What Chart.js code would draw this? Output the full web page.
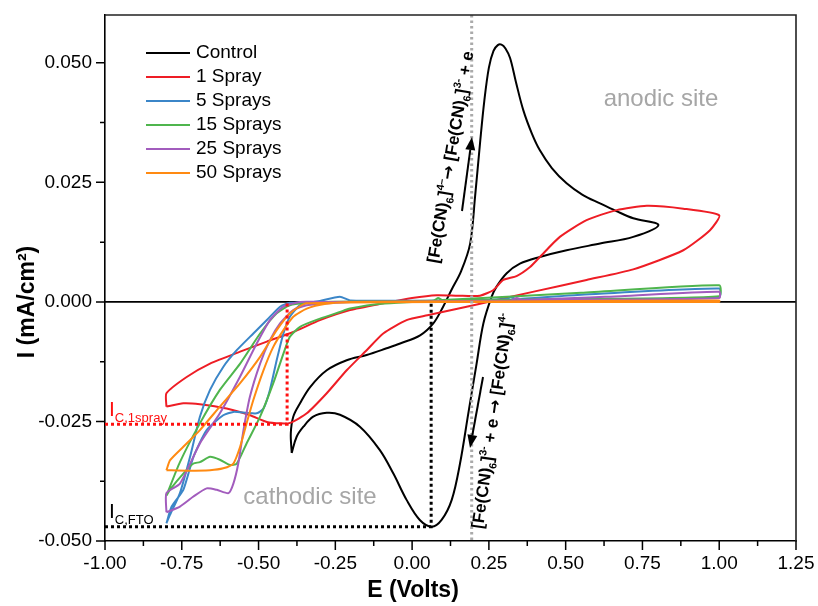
<!DOCTYPE html>
<html>
<head>
<meta charset="utf-8">
<script src="https://cdn.jsdelivr.net/npm/chart.js@4.4.0/dist/chart.umd.min.js"></script>
<style>
  html, body { margin: 0; padding: 0; background: #fff; }
  canvas { display: block; }
</style>
</head>
<body>
<canvas id="cvChart" width="818" height="606"></canvas>
<script>
// series
const seriesNames = ['Control', '1 Spray', '5 Sprays', '15 Sprays', '25 Sprays', '50 Sprays'];
const seriesColors = ['#000000', '#ee1d25', '#3b86c8', '#4fb54d', '#a25cbd', '#ff8a12'];

// E (V) and I (mA/cm2), each loop in scan order
const controlE = [-0.392, -0.395, -0.387, -0.365, -0.332, -0.278, -0.213, -0.148, -0.083, -0.039, 0.026, 0.069, 0.101, 0.128, 0.160, 0.189, 0.205, 0.221, 0.235, 0.250, 0.265, 0.279, 0.291, 0.304, 0.319, 0.338, 0.362, 0.390, 0.416, 0.455, 0.503, 0.555, 0.612, 0.665, 0.720, 0.802,
                  0.720, 0.612, 0.503, 0.416, 0.351, 0.308, 0.275, 0.259, 0.232, 0.210, 0.183, 0.156, 0.129, 0.096, 0.064, 0.025, -0.018, -0.061, -0.105, -0.170, -0.235, -0.278, -0.322, -0.354, -0.376, -0.392];
const controlI = [-0.0316, -0.0275, -0.0240, -0.0212, -0.0178, -0.0143, -0.0122, -0.0111, -0.0097, -0.0087, -0.0070, -0.0045, -0.0010, 0.0025, 0.0065, 0.0122, 0.0220, 0.0331, 0.0420, 0.0490, 0.0525, 0.0537, 0.0538, 0.0530, 0.0510, 0.0460, 0.0401, 0.0352, 0.0317, 0.0280, 0.0248, 0.0224, 0.0206, 0.0190, 0.0175, 0.0161,
                  0.0136, 0.0122, 0.0108, 0.0094, 0.0080, 0.0060, 0.0032, 0.0011, -0.0045, -0.0129, -0.0233, -0.0338, -0.0414, -0.0456, -0.0470, -0.0456, -0.0414, -0.0359, -0.0310, -0.0261, -0.0236, -0.0232, -0.0240, -0.0261, -0.0282, -0.0316];

const spray1E = [-0.800, -0.800, -0.734, -0.658, -0.560, -0.473, -0.387, -0.300, -0.202, -0.094, 0.000, 0.080, 0.150, 0.221, 0.265, 0.297, 0.340, 0.384, 0.416, 0.481, 0.568, 0.666, 0.764, 0.883, 1.000,
                 0.970, 0.883, 0.720, 0.568, 0.400, 0.200, 0.050, -0.018, -0.094, -0.148, -0.213, -0.278, -0.343, -0.397, -0.430, -0.473, -0.528, -0.604, -0.691, -0.745, -0.800];
const spray1I = [-0.0219, -0.0191, -0.0157, -0.0129, -0.0104, -0.0083, -0.0063, -0.0038, -0.0017, -0.0003, 0.0008, 0.0014, 0.0013, 0.0013, 0.0025, 0.0046, 0.0054, 0.0073, 0.0094, 0.0136, 0.0171, 0.0192, 0.0201, 0.0195, 0.0181,
                 0.0150, 0.0108, 0.0068, 0.0046, 0.0022, -0.0007, -0.0028, -0.0038, -0.0066, -0.0101, -0.0143, -0.0191, -0.0233, -0.0253, -0.0254, -0.0251, -0.0237, -0.0223, -0.0214, -0.0212, -0.0219];

const spray5E = [-0.800, -0.783, -0.745, -0.712, -0.669, -0.615, -0.582, -0.539, -0.506, -0.484, -0.463, -0.441, -0.419, -0.398, -0.365, -0.300, -0.235, -0.200, 0.100, 0.310, 0.320, 0.340, 0.550, 1.000,
                 1.000, 0.500, 0.000, -0.300, -0.398, -0.430, -0.473, -0.517, -0.571, -0.615, -0.658, -0.691, -0.723, -0.756, -0.788, -0.800];
const spray5I = [-0.0463, -0.0428, -0.0393, -0.0324, -0.0268, -0.0237, -0.0230, -0.0232, -0.0233, -0.0223, -0.0184, -0.0122, -0.0066, -0.0031, -0.0007, 0.0002, 0.0011, 0.0003, 0.0003, 0.0006, 0.0010, 0.0006, 0.0015, 0.0028,
                 0.0010, 0.0004, 0.0001, 0.0000, -0.0002, -0.0010, -0.0038, -0.0066, -0.0101, -0.0136, -0.0184, -0.0240, -0.0324, -0.0400, -0.0445, -0.0463];

const spray15E = [-0.800, -0.789, -0.745, -0.712, -0.691, -0.658, -0.626, -0.593, -0.571, -0.539, -0.495, -0.452, -0.419, -0.398, -0.365, -0.300, -0.235, -0.202, -0.100, 0.070, 0.085, 0.100, 0.550, 1.000,
                  1.000, 0.500, 0.000, -0.300, -0.398, -0.441, -0.495, -0.560, -0.626, -0.691, -0.756, -0.800];
const spray15I = [-0.0405, -0.0393, -0.0359, -0.0338, -0.0335, -0.0324, -0.0330, -0.0341, -0.0338, -0.0296, -0.0240, -0.0170, -0.0108, -0.0073, -0.0052, -0.0035, -0.0021, -0.0014, -0.0004, 0.0003, 0.0008, 0.0004, 0.0019, 0.0035,
                  0.0012, 0.0006, 0.0002, 0.0000, -0.0007, -0.0024, -0.0066, -0.0129, -0.0184, -0.0254, -0.0335, -0.0405];

const spray25E = [-0.800, -0.756, -0.712, -0.669, -0.636, -0.598, -0.582, -0.566, -0.549, -0.528, -0.495, -0.463, -0.430, -0.387, -0.343, -0.200, 0.320, 0.340, 0.360, 0.680, 1.000,
                  1.000, 0.500, 0.000, -0.300, -0.365, -0.419, -0.463, -0.506, -0.560, -0.626, -0.691, -0.756, -0.800, -0.800];
const spray25I = [-0.0440, -0.0428, -0.0407, -0.0390, -0.0393, -0.0400, -0.0380, -0.0338, -0.0268, -0.0198, -0.0129, -0.0080, -0.0045, -0.0017, -0.0007, 0.0000, 0.0002, 0.0008, 0.0004, 0.0012, 0.0021,
                  0.0008, 0.0004, 0.0001, 0.0000, 0.0000, -0.0010, -0.0038, -0.0087, -0.0156, -0.0233, -0.0296, -0.0380, -0.0400, -0.0440];

const spray50E = [-0.800, -0.730, -0.658, -0.615, -0.582, -0.560, -0.539, -0.517, -0.484, -0.452, -0.419, -0.387, -0.343, -0.280, -0.200, 0.300, 1.000,
                  1.000, 0.300, -0.343, -0.398, -0.441, -0.495, -0.560, -0.626, -0.691, -0.745, -0.788, -0.800];
const spray50I = [-0.0352, -0.0353, -0.0352, -0.0348, -0.0338, -0.0303, -0.0254, -0.0205, -0.0143, -0.0094, -0.0059, -0.0031, -0.0014, -0.0004, 0.0000, 0.0001, 0.0003,
                  0.0000, 0.0000, -0.0003, -0.0024, -0.0059, -0.0115, -0.0170, -0.0219, -0.0268, -0.0303, -0.0331, -0.0352];

const allE = [controlE, spray1E, spray5E, spray15E, spray25E, spray50E];
const allI = [controlI, spray1I, spray5I, spray15I, spray25I, spray50I];

// axes
const xMin = -1.0, xMax = 1.25, xStep = 0.25;
const yMin = -0.05, yMax = 0.06, yStep = 0.025;

// marked peaks and the reference potential
const peakFTO = { E: 0.062, I: -0.047 };
const peak1Spray = { E: -0.407, I: -0.0256 };
const refE = 0.194;

const FONT = 'Arial, "Liberation Sans", sans-serif';
const ARROW_FONT = '"DejaVu Sans", sans-serif';

function partFont(p, size, bold) {
  const s = (p[1] === 'sub' || p[1] === 'sup') ? size * 0.62 : size;
  const fam = p[1] === 'arr' ? ARROW_FONT : FONT;
  return (bold ? 'bold ' : '') + s + 'px ' + fam;
}

function richWidth(ctx, parts, size, bold) {
  let w = 0;
  for (const p of parts) {
    ctx.font = partFont(p, size, bold);
    w += ctx.measureText(p[0]).width;
  }
  return w;
}

function drawRich(ctx, parts, x, y, size, bold, color) {
  // x = left, y = baseline
  ctx.fillStyle = color;
  ctx.textBaseline = 'alphabetic';
  ctx.textAlign = 'left';
  for (const p of parts) {
    ctx.font = partFont(p, size, bold);
    let dy = 0;
    if (p[1] === 'sub') dy = size * 0.28;
    if (p[1] === 'sup') dy = -size * 0.42;
    ctx.fillText(p[0], x, y + dy);
    x += ctx.measureText(p[0]).width;
  }
}

function arrow(ctx, x1, y1, x2, y2) {
  const a = Math.atan2(y2 - y1, x2 - x1);
  const hl = 13, hw = 5;
  ctx.strokeStyle = '#000';
  ctx.fillStyle = '#000';
  ctx.lineWidth = 2;
  ctx.beginPath();
  ctx.moveTo(x1, y1);
  ctx.lineTo(x2 - hl * Math.cos(a), y2 - hl * Math.sin(a));
  ctx.stroke();
  ctx.beginPath();
  ctx.moveTo(x2, y2);
  ctx.lineTo(x2 - hl * Math.cos(a) + hw * Math.sin(a), y2 - hl * Math.sin(a) - hw * Math.cos(a));
  ctx.lineTo(x2 - hl * Math.cos(a) - hw * Math.sin(a), y2 - hl * Math.sin(a) + hw * Math.cos(a));
  ctx.closePath();
  ctx.fill();
}

const reaction1 = [['[Fe(CN)', 'n'], ['6', 'sub'], [']', 'n'], ['4\u2013', 'sup'], ['\u2192', 'arr'], [' [Fe(CN)', 'n'], ['6', 'sub'], [']', 'n'], ['3-', 'sup'], [' + e', 'n']];
const reaction2 = [['[Fe(CN)', 'n'], ['6', 'sub'], [']', 'n'], ['3-', 'sup'], [' + e ', 'n'], ['\u2192', 'arr'], [' [Fe(CN)', 'n'], ['6', 'sub'], [']', 'n'], ['4-', 'sup']];

const decor = {
  id: 'decor',
  beforeDatasetsDraw(chart) {
    const { ctx, chartArea: ca, scales: { x, y } } = chart;
    ctx.save();
    // zero line
    ctx.strokeStyle = '#000';
    ctx.lineWidth = 1.6;
    ctx.beginPath();
    ctx.moveTo(ca.left, y.getPixelForValue(0));
    ctx.lineTo(ca.right, y.getPixelForValue(0));
    ctx.stroke();
    ctx.restore();
  },
  afterDatasetsDraw(chart) {
    const { ctx, chartArea: ca, scales: { x, y } } = chart;
    ctx.save();

    // grey reference line
    ctx.strokeStyle = '#aaaaaa';
    ctx.lineWidth = 3;
    ctx.setLineDash([2.5, 3]);
    ctx.beginPath();
    ctx.moveTo(x.getPixelForValue(refE), ca.top);
    ctx.lineTo(x.getPixelForValue(refE), ca.bottom);
    ctx.stroke();

    // dotted guides to the cathodic peaks
    ctx.setLineDash([3, 3]);
    ctx.lineWidth = 3;
    ctx.strokeStyle = '#000';
    ctx.beginPath();
    ctx.moveTo(ca.left, y.getPixelForValue(peakFTO.I));
    ctx.lineTo(x.getPixelForValue(peakFTO.E), y.getPixelForValue(peakFTO.I));
    ctx.lineTo(x.getPixelForValue(peakFTO.E), y.getPixelForValue(0));
    ctx.stroke();
    ctx.strokeStyle = '#ff1010';
    ctx.beginPath();
    ctx.moveTo(ca.left, y.getPixelForValue(peak1Spray.I));
    ctx.lineTo(x.getPixelForValue(peak1Spray.E), y.getPixelForValue(peak1Spray.I));
    ctx.lineTo(x.getPixelForValue(peak1Spray.E), y.getPixelForValue(0));
    ctx.stroke();
    ctx.setLineDash([]);

    // frame
    ctx.strokeStyle = '#222';
    ctx.lineWidth = 1.6;
    ctx.beginPath();
    ctx.moveTo(ca.left, ca.top);
    ctx.lineTo(ca.right, ca.top);
    ctx.lineTo(ca.right, ca.bottom);
    ctx.stroke();

    // ticks, major and minor
    ctx.strokeStyle = '#000';
    ctx.lineWidth = 1.5;
    ctx.beginPath();
    for (let v = xMin; v <= xMax + 1e-9; v += xStep / 2) {
      const px = x.getPixelForValue(v);
      const major = Math.abs(Math.round((v - xMin) / xStep) * xStep - (v - xMin)) < 1e-6;
      ctx.moveTo(px, ca.bottom);
      ctx.lineTo(px, ca.bottom + (major ? 9 : 5));
    }
    for (let v = yMin; v <= yMax + 1e-9; v += yStep / 2) {
      const py = y.getPixelForValue(v);
      const major = Math.abs(Math.round((v - yMin) / yStep) * yStep - (v - yMin)) < 1e-6;
      ctx.moveTo(ca.left, py);
      ctx.lineTo(ca.left - (major ? 9 : 5), py);
    }
    ctx.stroke();

    // axis titles
    ctx.fillStyle = '#000';
    ctx.textAlign = 'center';
    ctx.textBaseline = 'middle';
    ctx.font = 'bold 23px ' + FONT;
    ctx.fillText('E (Volts)', 413, 591);
    ctx.save();
    ctx.translate(28, 302);
    ctx.rotate(-Math.PI / 2);
    ctx.fillText('I (mA/cm\u00B2)', 0, 0);
    ctx.restore();

    // legend
    ctx.font = '19px ' + FONT;
    ctx.textAlign = 'left';
    seriesNames.forEach((name, i) => {
      const ly = 53 + i * 24;
      ctx.strokeStyle = seriesColors[i];
      ctx.lineWidth = 2;
      ctx.beginPath();
      ctx.moveTo(146, ly);
      ctx.lineTo(190, ly);
      ctx.stroke();
      ctx.fillStyle = '#000';
      ctx.fillText(name, 196, ly);
    });

    // site labels
    ctx.fillStyle = '#a6a6a6';
    ctx.textAlign = 'center';
    ctx.font = '24px ' + FONT;
    ctx.fillText('anodic site', 661, 99);
    ctx.fillText('cathodic site', 310, 497);

    // peak current labels
    drawRich(ctx, [['I', 'n'], ['C,1spray', 'sub']], 109, 416, 21, false, '#ff1010');
    drawRich(ctx, [['I', 'n'], ['C,FTO', 'sub']], 109, 518, 21, false, '#000');

    // reactions
    const size = 17;
    ctx.save();
    ctx.translate(450, 157);
    ctx.rotate(-80.5 * Math.PI / 180);
    drawRich(ctx, reaction1, -richWidth(ctx, reaction1, size, true) / 2, 6, size, true, '#000');
    ctx.restore();
    ctx.save();
    ctx.translate(492, 421);
    ctx.rotate(-82 * Math.PI / 180);
    drawRich(ctx, reaction2, -richWidth(ctx, reaction2, size, true) / 2, 6, size, true, '#000');
    ctx.restore();

    arrow(ctx, 462, 211, 472, 137);
    arrow(ctx, 483, 377, 470, 448);

    ctx.restore();
  }
};

const datasets = seriesNames.map((name, i) => ({
  label: name,
  data: allE[i].map((e, k) => ({ x: e, y: allI[i][k] })),
  showLine: true,
  borderColor: seriesColors[i],
  backgroundColor: seriesColors[i],
  borderWidth: 2,
  pointRadius: 0,
  tension: i === 0 ? 0.35 : 0.2,
  fill: false,
  order: seriesNames.length - i
}));

new Chart(document.getElementById('cvChart'), {
  type: 'scatter',
  data: { datasets },
  options: {
    responsive: false,
    animation: false,
    devicePixelRatio: 1,
    layout: { padding: { top: 15, right: 22, left: 0, bottom: 0 } },
    plugins: { legend: { display: false }, tooltip: { enabled: false } },
    scales: {
      x: {
        type: 'linear',
        min: xMin, max: xMax,
        grid: { display: false, drawTicks: false },
        border: { display: true, color: '#000', width: 1.6 },
        ticks: { stepSize: xStep, padding: 11, color: '#000', font: { size: 19, family: FONT }, callback: v => v.toFixed(2) },
        afterFit(s) { s.height = 65; s.paddingLeft = 0; s.paddingRight = 0; }
      },
      y: {
        type: 'linear',
        min: yMin, max: yMax,
        grid: { display: false, drawTicks: false },
        border: { display: true, color: '#000', width: 1.6 },
        ticks: { stepSize: yStep, includeBounds: false, padding: 13, color: '#000', font: { size: 19, family: FONT }, callback: v => v.toFixed(3) },
        afterFit(s) { s.width = 105; s.paddingTop = 0; s.paddingBottom = 0; }
      }
    }
  },
  plugins: [decor]
});
</script>
</body>
</html>
